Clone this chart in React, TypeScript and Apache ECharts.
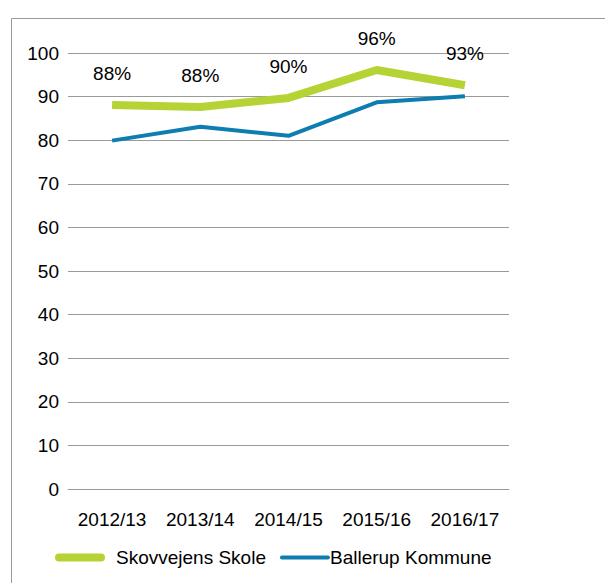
import React, { useEffect, useRef } from "react";
import * as echarts from "echarts";

const categories = ["2012/13", "2013/14", "2014/15", "2015/16", "2016/17"];
const skoleValues = [88.1, 87.6, 89.7, 96.1, 92.6];
const kommuneValues = [79.9, 83.1, 81.0, 88.7, 90.1];
const yTicks = { min: 0, max: 100, interval: 10 };

const GREEN = "#b5d334";
const BLUE = "#0e7db0";
const FONT = "'Liberation Sans', Arial, sans-serif";
const FS = 19;

export default function App() {
  const ref = useRef<HTMLDivElement>(null);
  useEffect(() => {
    document.body.style.margin = "0";
    const chart = echarts.init(ref.current!, null, { renderer: "svg" });
    chart.setOption({
      animation: false,
      textStyle: { fontFamily: FONT },
      graphic: [
        {
          type: "rect",
          left: 9,
          top: 16,
          shape: { width: 700, height: 700 },
          style: { fill: "none", stroke: "#9a9a9a", lineWidth: 1 },
          silent: true,
        },
      ],
      grid: { left: 68, right: 96, top: 53, bottom: 94 },
      legend: {
        left: 50,
        top: 543,
        itemWidth: 50,
        itemHeight: 14,
        itemGap: 14,
        textStyle: { fontFamily: FONT, fontSize: FS, color: "#000" },
        data: [
          {
            name: "Skovvejens Skole",
            icon: "path://M4,0 L46,0 A4,4 0 0 1 46,8 L4,8 A4,4 0 0 1 4,0 Z",
            itemStyle: { color: GREEN, opacity: 1 },
            textStyle: { padding: [0, 0, 0, 6] },
          },
          {
            name: "Ballerup Kommune",
            icon: "path://M2,0 L48,0 A2,2 0 0 1 48,4 L2,4 A2,2 0 0 1 2,0 Z",
            itemStyle: { color: BLUE, opacity: 1 },
            textStyle: { padding: [0, 0, 0, -5] },
          },
        ],
      },
      xAxis: {
        type: "category",
        data: categories,
        axisLine: { lineStyle: { color: "#9a9a9a" } },
        axisTick: { show: false },
        axisLabel: {
          color: "#000",
          fontSize: FS,
          margin: 21,
          fontFamily: FONT,
          interval: 0,
          hideOverlap: false,
        },
      },
      yAxis: {
        type: "value",
        min: yTicks.min,
        max: yTicks.max,
        interval: yTicks.interval,
        axisLine: { show: false },
        axisTick: { show: false },
        splitLine: { lineStyle: { color: "#9a9a9a" } },
        axisLabel: { color: "#000", fontSize: FS, margin: 9, fontFamily: FONT },
      },
      series: [
        {
          name: "Skovvejens Skole",
          type: "line",
          data: skoleValues,
          showSymbol: true,
          symbol: "circle",
          symbolSize: 2,
          itemStyle: { color: "rgba(0,0,0,0)", borderWidth: 0 },
          color: GREEN,
          lineStyle: { color: GREEN, width: 8 },
          label: {
            show: true,
            position: "top",
            distance: 21,
            fontSize: FS,
            color: "#000",
            fontFamily: FONT,
            formatter: (p: any) => Math.round(p.value) + "%",
          },
          z: 3,
        },
        {
          name: "Ballerup Kommune",
          type: "line",
          data: kommuneValues,
          showSymbol: false,
          symbol: "none",
          itemStyle: { color: BLUE },
          color: BLUE,
          lineStyle: { color: BLUE, width: 4 },
          z: 2,
        },
      ],
    });
    return () => chart.dispose();
  }, []);
  return <div ref={ref} style={{ width: 605, height: 583 }} />;
}
